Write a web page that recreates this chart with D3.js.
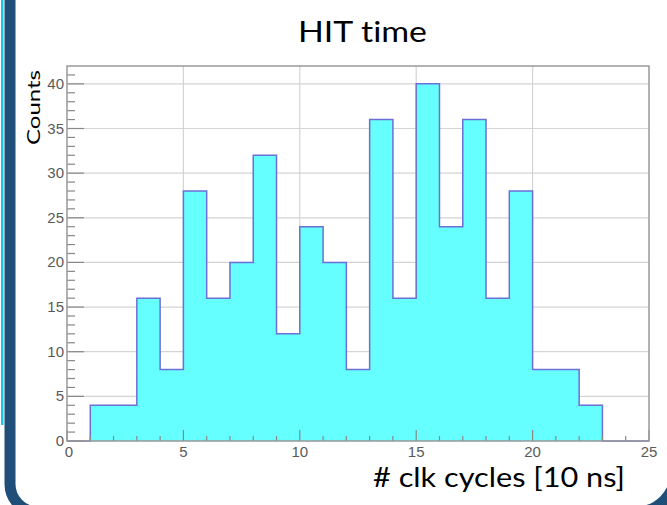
<!DOCTYPE html>
<html>
<head>
<meta charset="utf-8">
<script src="https://cdn.jsdelivr.net/npm/d3@7"></script>
<style>
  body { margin: 0; background: #fff; }
  svg { display: block; }
  .tickLabel { font-family: "Liberation Sans", Arial, sans-serif; font-size: 15px; fill: #5a5a5a; }
  .bigText { font-family: Lato, "Open Sans", sans-serif; fill: #000; font-variant-ligatures: none; }
</style>
</head>
<body>
<div id="chart"></div>
<script>
// histogram data: 1 clk wide bins from 0 to 25
var binEdges = d3.range(0, 26);
var counts = [0, 4, 4, 16, 8, 28, 16, 20, 32, 12, 24, 20, 8, 36, 16, 40, 24, 36, 16, 28, 8, 8, 4, 0, 0];
var xTicks = [0, 5, 10, 15, 20, 25];
var yTicks = [0, 5, 10, 15, 20, 25, 30, 35, 40];

var width = 667;
var height = 505;

var svg = d3.select("#chart")
  .append("svg")
  .attr("width", width)
  .attr("height", height);

// slide frame
svg.append("rect")
  .attr("x", 1)
  .attr("y", 0)
  .attr("width", 2.5)
  .attr("height", 425)
  .attr("fill", "#1fc3f3");

svg.append("path")
  .attr("d", "M10,-20 L10,484 A28,28 0 0 0 38,512 L636,512 A40,40 0 0 0 676,472 L676,-20")
  .attr("fill", "none")
  .attr("stroke", "#1f4e79")
  .attr("stroke-width", 11);

// plot area
var plotLeft = 67, plotRight = 649, plotTop = 66, plotBottom = 441;

var xScale = d3.scaleLinear().domain([0, 25]).range([plotLeft, plotRight]);
var yScale = d3.scaleLinear().domain([0, 42]).range([plotBottom, plotTop]);

// grid
svg.append("g")
  .selectAll("line")
  .data(xTicks.slice(1, -1))
  .enter()
  .append("line")
  .attr("x1", function(d) { return xScale(d); })
  .attr("x2", function(d) { return xScale(d); })
  .attr("y1", plotTop)
  .attr("y2", plotBottom)
  .attr("stroke", "#d4d4d4")
  .attr("stroke-width", 1.2);

svg.append("g")
  .selectAll("line")
  .data(yTicks.slice(1))
  .enter()
  .append("line")
  .attr("x1", plotLeft)
  .attr("x2", plotRight)
  .attr("y1", function(d) { return yScale(d); })
  .attr("y2", function(d) { return yScale(d); })
  .attr("stroke", "#d4d4d4")
  .attr("stroke-width", 1.2);

// histogram as step outline
var pts = [];
counts.forEach(function(c, i) {
  pts.push([binEdges[i], c]);
  pts.push([binEdges[i + 1], c]);
});

var area = d3.area()
  .x(function(d) { return xScale(d[0]); })
  .y0(yScale(0))
  .y1(function(d) { return yScale(d[1]); });

var line = d3.line()
  .x(function(d) { return xScale(d[0]); })
  .y(function(d) { return yScale(d[1]); });

svg.append("path")
  .datum(pts)
  .attr("d", area)
  .attr("fill", "#66ffff");

svg.append("path")
  .datum(pts)
  .attr("d", line)
  .attr("fill", "none")
  .attr("stroke", "#6b6fd6")
  .attr("stroke-width", 1.5);

// ticks - y axis, minor every 1, major every 5
var yAll = d3.range(0, 42);
svg.append("g")
  .selectAll("line")
  .data(yAll)
  .enter()
  .append("line")
  .attr("x1", plotLeft)
  .attr("x2", function(d) { return plotLeft + (d % 5 === 0 ? 17 : 8); })
  .attr("y1", function(d) { return yScale(d); })
  .attr("y2", function(d) { return yScale(d); })
  .attr("stroke", "#888")
  .attr("stroke-width", 1.2);

// ticks - x axis
var xAll = d3.range(0, 26);
svg.append("g")
  .selectAll("line")
  .data(xAll)
  .enter()
  .append("line")
  .attr("x1", function(d) { return xScale(d); })
  .attr("x2", function(d) { return xScale(d); })
  .attr("y1", plotBottom)
  .attr("y2", function(d) { return plotBottom - (d % 5 === 0 ? 11 : 5); })
  .attr("stroke", "#888")
  .attr("stroke-width", 1.2);

// frame
svg.append("rect")
  .attr("x", plotLeft)
  .attr("y", plotTop)
  .attr("width", plotRight - plotLeft)
  .attr("height", plotBottom - plotTop)
  .attr("fill", "none")
  .attr("stroke", "#999")
  .attr("stroke-width", 1.5);

// tick labels
svg.append("g")
  .selectAll("text")
  .data(yTicks)
  .enter()
  .append("text")
  .attr("class", "tickLabel")
  .attr("x", plotLeft - 3)
  .attr("y", function(d) { return yScale(d) + 5; })
  .attr("text-anchor", "end")
  .text(function(d) { return d; });

svg.append("g")
  .selectAll("text")
  .data(xTicks)
  .enter()
  .append("text")
  .attr("class", "tickLabel")
  .attr("x", function(d) { return xScale(d) + (d === 0 ? 2 : 0); })
  .attr("y", plotBottom + 16)
  .attr("text-anchor", "middle")
  .text(function(d) { return d; });

// titles
svg.append("text")
  .attr("class", "bigText")
  .attr("x", 298)
  .attr("y", 42)
  .attr("font-size", 28)
  .attr("textLength", 129)
  .attr("lengthAdjust", "spacingAndGlyphs")
  .text("HIT time");

svg.append("text")
  .attr("class", "bigText")
  .attr("x", 373)
  .attr("y", 487)
  .attr("font-size", 27)
  .attr("textLength", 252)
  .attr("lengthAdjust", "spacingAndGlyphs")
  .text("# clk cycles [10 ns]");

svg.append("text")
  .attr("class", "bigText")
  .attr("transform", "translate(40,145)rotate(-90)")
  .attr("font-size", 18)
  .attr("textLength", 75)
  .attr("lengthAdjust", "spacingAndGlyphs")
  .text("Counts");
</script>
</body>
</html>
